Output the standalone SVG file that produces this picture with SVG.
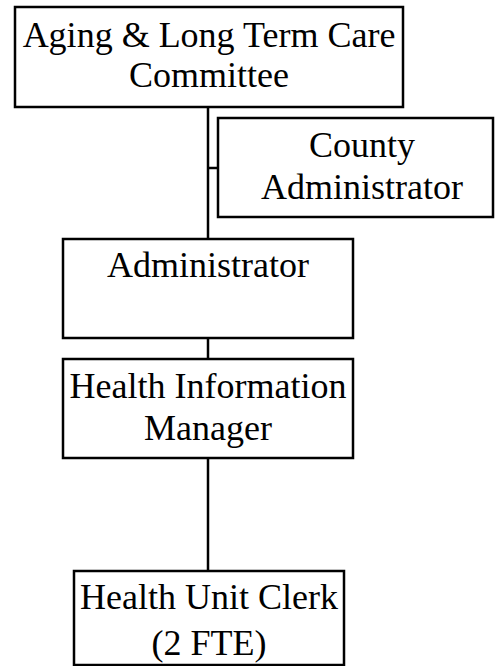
<svg xmlns="http://www.w3.org/2000/svg" width="495" height="666" viewBox="0 0 495 666">
<style>
.box{fill:#fff;stroke:#000;stroke-width:2.5}
.ln{stroke:#000;stroke-width:2.5;fill:none}
text{font-family:"Liberation Serif","Times New Roman",serif;font-size:36px;fill:#000;text-anchor:middle}
</style>
<rect width="495" height="666" fill="#fff"/>
<g id="connectors">
<line class="ln" x1="208" y1="107" x2="208" y2="239"/>
<line class="ln" x1="208" y1="168" x2="218" y2="168"/>
<line class="ln" x1="208" y1="338" x2="208" y2="359"/>
<line class="ln" x1="208" y1="458" x2="208" y2="571"/>
</g>
<g id="committee">
<rect class="box" x="15" y="7" width="388" height="100"/>
<text x="209" y="47">Aging &amp; Long Term Care</text>
<text x="209" y="87">Committee</text>
</g>
<g id="county">
<rect class="box" x="218" y="118" width="275" height="99"/>
<text x="362" y="157">County</text>
<text x="362" y="199">Administrator</text>
</g>
<g id="administrator">
<rect class="box" x="63" y="239" width="290" height="99"/>
<text x="208" y="277">Administrator</text>
</g>
<g id="him">
<rect class="box" x="63" y="359" width="290" height="99"/>
<text x="208" y="398">Health Information</text>
<text x="208" y="440">Manager</text>
</g>
<g id="huc">
<rect class="box" x="74" y="571" width="270" height="94"/>
<text x="209" y="609">Health Unit Clerk</text>
<text x="209" y="655">(2 FTE)</text>
</g>
</svg>
